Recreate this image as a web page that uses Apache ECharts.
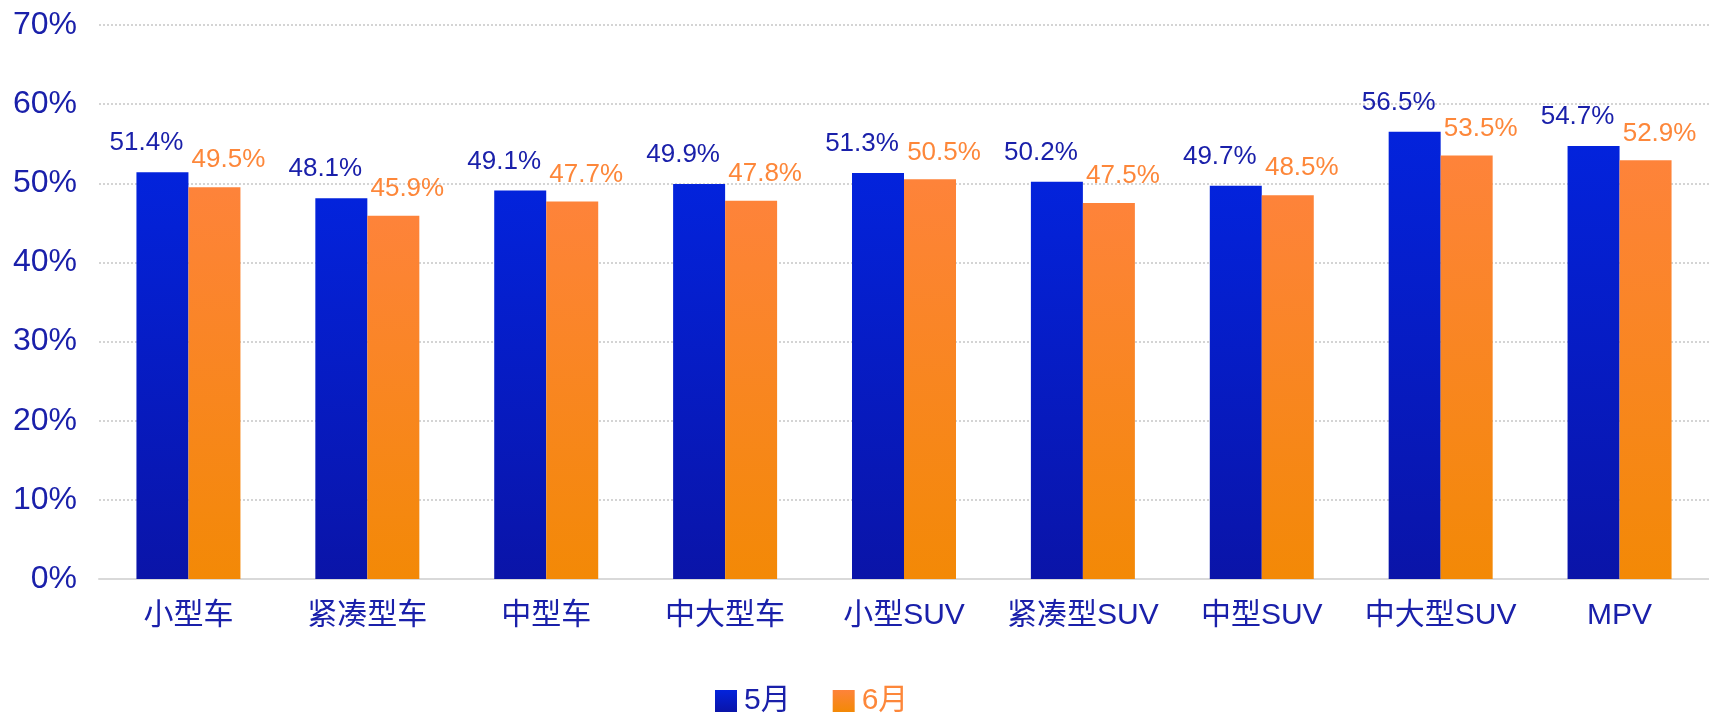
<!DOCTYPE html>
<html>
<head>
<meta charset="utf-8">
<script src="https://cdn.jsdelivr.net/npm/echarts@6/dist/echarts.min.js"></script>
<style>
	html, body { margin: 0; padding: 0; background: #fff; }
	#main { width: 1709px; height: 717px; }
</style>
</head>
<body>
<div id="main"></div>
<script>
// 车型分类
var categories = ['小型车', '紧凑型车', '中型车', '中大型车', '小型SUV', '紧凑型SUV', '中型SUV', '中大型SUV', 'MPV'];
// 5月 / 6月 数值 (%)
var may = [51.4, 48.1, 49.1, 49.9, 51.3, 50.2, 49.7, 56.5, 54.7];
var june = [49.5, 45.9, 47.7, 47.8, 50.5, 47.5, 48.5, 53.5, 52.9];
var seriesNames = ['5月', '6月'];

var FONT = '"Liberation Sans", "Noto Sans CJK SC", sans-serif';
var DARK_BLUE = '#1a20aa';
var ORANGE_TXT = '#fd873a';

function grad(top, bottom) {
	return new echarts.graphic.LinearGradient(0, 0, 0, 1, [
		{ offset: 0, color: top },
		{ offset: 1, color: bottom }
	]);
}

var option = {
	animation: false,
	backgroundColor: '#fff',
	textStyle: { fontFamily: FONT },
	grid: {
		left: 99,
		right: -4,
		top: 25,
		bottom: 138
	},
	legend: {
		left: 710,
		bottom: -4,
		itemWidth: 22,
		itemHeight: 22,
		itemGap: 42,
		icon: 'rect',
		textStyle: { fontSize: 30, fontFamily: FONT, padding: [0, 0, 0, 2] },
		data: [
			{ name: seriesNames[0], textStyle: { color: DARK_BLUE } },
			{ name: seriesNames[1], textStyle: { color: ORANGE_TXT } }
		]
	},
	xAxis: {
		type: 'category',
		data: categories,
		axisLine: { show: true, lineStyle: { color: '#d9d9d9', width: 2 } },
		axisTick: { show: false },
		axisLabel: {
			interval: 0,
			color: DARK_BLUE,
			fontSize: 30,
			margin: 22,
			fontFamily: FONT
		}
	},
	yAxis: {
		type: 'value',
		min: 0,
		max: 70,
		interval: 10,
		axisLine: { show: false },
		axisTick: { show: false },
		axisLabel: {
			color: DARK_BLUE,
			fontSize: 32,
			margin: 22,
			fontFamily: FONT,
			formatter: '{value}%'
		},
		splitLine: {
			show: true,
			lineStyle: { color: '#d4d4d4', type: [2, 2], width: 2 }
		}
	},
	series: [{
		name: seriesNames[0],
		type: 'bar',
		data: may,
		barWidth: 52,
		barGap: '0%',
		itemStyle: { color: grad('#0323dc', '#0a14a8') },
		label: {
			show: true,
			position: 'top',
			distance: 16,
			offset: [-16, 0],
			color: DARK_BLUE,
			fontSize: 26,
			fontFamily: FONT,
			formatter: '{c}%'
		}
	}, {
		name: seriesNames[1],
		type: 'bar',
		data: june,
		barWidth: 52,
		itemStyle: { color: grad('#fe833a', '#f38906') },
		label: {
			show: true,
			position: 'top',
			distance: 14,
			offset: [14, 0],
			color: ORANGE_TXT,
			fontSize: 26,
			fontFamily: FONT,
			formatter: '{c}%'
		}
	}]
};

var myChart = echarts.init(document.getElementById('main'));
myChart.setOption(option, true);
</script>
</body>
</html>
